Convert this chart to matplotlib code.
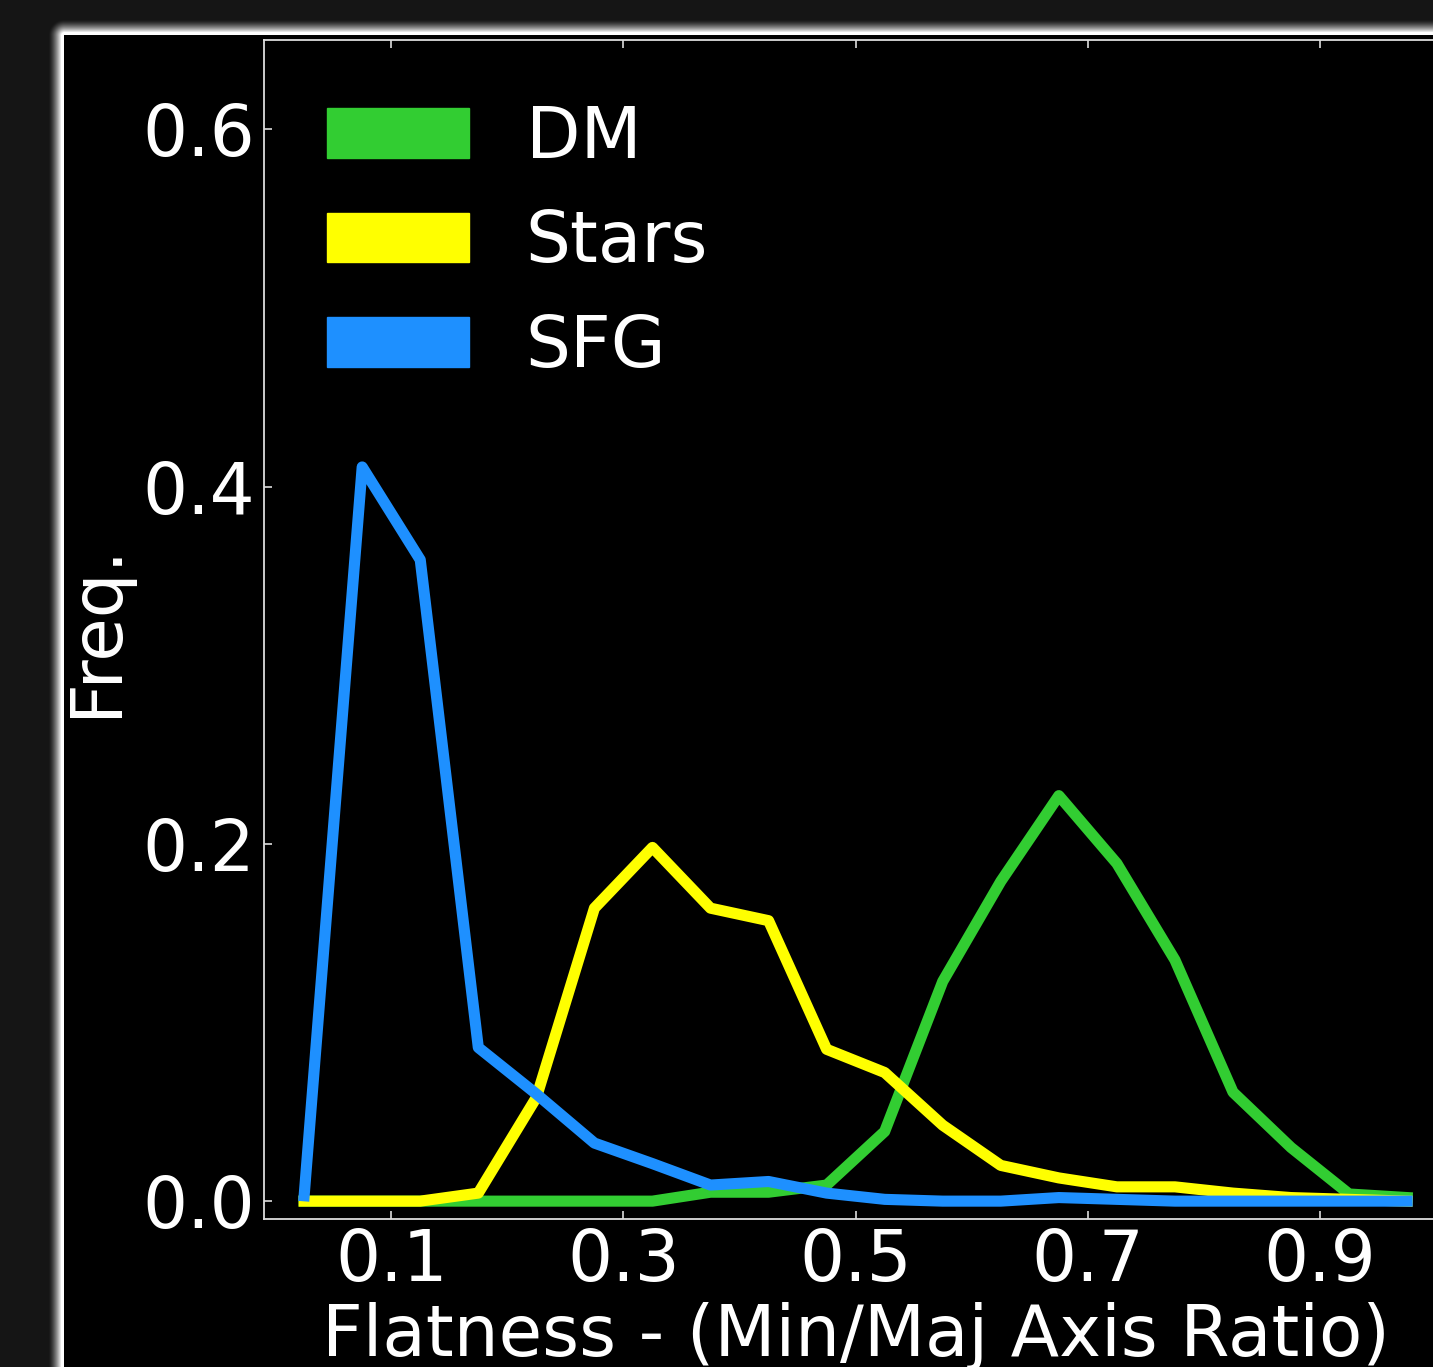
import numpy as np
import matplotlib
matplotlib.use('Agg')
import matplotlib.pyplot as plt
from matplotlib.patches import Patch

# bin centres of the flatness histogram
bin_centres = [0.025, 0.075, 0.125, 0.175, 0.225, 0.275, 0.325, 0.375, 0.425, 0.475,
               0.525, 0.575, 0.625, 0.675, 0.725, 0.775, 0.825, 0.875, 0.925, 0.975]

freq_dm = [0.0, 0.0, 0.0, 0.0, 0.0, 0.0, 0.0, 0.005, 0.005, 0.009,
           0.039, 0.123, 0.179, 0.227, 0.189, 0.135, 0.061, 0.030, 0.004, 0.002]
freq_stars = [0.0, 0.0, 0.0, 0.0045, 0.058, 0.164, 0.198, 0.164, 0.157, 0.085,
              0.072, 0.0425, 0.020, 0.013, 0.008, 0.008, 0.0045, 0.002, 0.001, 0.0]
freq_sfg = [0.003, 0.411, 0.359, 0.086, 0.060, 0.0325, 0.021, 0.009, 0.011, 0.0045,
            0.001, 0.0, 0.0, 0.002, 0.001, 0.0, 0.0, 0.0, 0.0, 0.0]

labels = ['DM', 'Stars', 'SFG']
colors = ['#32CD32', '#FFFF00', '#1E90FF']
x_ticks = [0.1, 0.3, 0.5, 0.7, 0.9]
y_ticks = [0.0, 0.2, 0.4, 0.6]

FS = 51
W, H = 1433, 1367
fig = plt.figure(figsize=(W / 100, H / 100), dpi=100, facecolor='#161616')

# screenshot look: black picture with a soft white glow on the top/left edge
yy, xx = np.mgrid[0:H, 0:W]
dx = np.clip(64 - xx, 0, None)
dy = np.clip(35 - yy, 0, None)
d = np.hypot(dx, dy)
glow = np.clip(1 - (d - 3) / 13, 0, 1) ** 1.5
val = 0.086 + (1 - 0.086) * glow
val[d == 0] = 0.0
img = np.dstack([val, val, val])
fig.figimage(img, xo=0, yo=0, origin='upper', zorder=-10)

ax = fig.add_axes([263.5 / W, 148 / H, (1447.8 - 263.5) / W, (1327 - 148) / H])
ax.set_facecolor('black')

for series, lab, col in zip([freq_dm, freq_stars, freq_sfg], labels, colors):
    ax.plot(bin_centres, series, color=col, lw=8, label=lab)

ax.set_xlim(-0.01, 1.01)
ax.set_ylim(-0.01, 0.65)
ax.set_xticks(x_ticks)
ax.set_yticks(y_ticks)
ax.set_xticklabels([f'{t:.1f}' for t in x_ticks])
ax.set_yticklabels([f'{t:.1f}' for t in y_ticks])

for sp in ax.spines.values():
    sp.set_color('#dddddd')
    sp.set_linewidth(1.3)
ax.tick_params(direction='in', top=True, right=True, length=6, width=1.2,
               colors='#dddddd', labelcolor='white', labelsize=FS, pad=6)

ax.set_xlabel('Flatness - (Min/Maj Axis Ratio)', color='white', fontsize=FS)
ax.set_ylabel('Freq.', color='white', fontsize=FS, labelpad=8)

handles = [Patch(facecolor=c, edgecolor=c, label=l) for c, l in zip(colors, labels)]
leg = ax.legend(handles=handles, loc='upper left', frameon=False, fontsize=FS,
                labelspacing=0.5)
for t in leg.get_texts():
    t.set_color('white')

fig.savefig('out.png', dpi=100, facecolor=fig.get_facecolor())
